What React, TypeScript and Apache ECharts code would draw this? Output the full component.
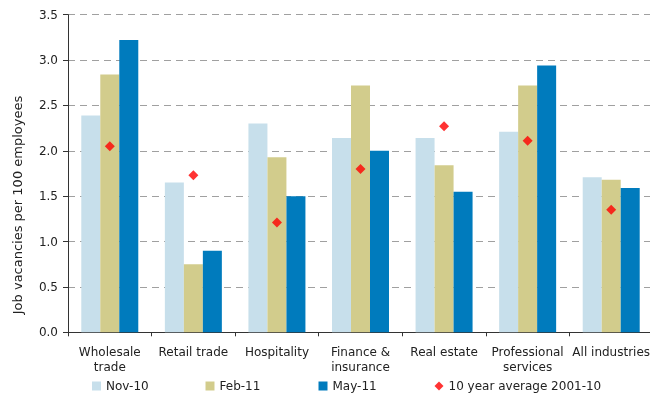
import React, { useEffect, useRef } from "react";
import * as echarts from "echarts";

const categories = [
  "Wholesale\ntrade",
  "Retail trade",
  "Hospitality",
  "Finance &\ninsurance",
  "Real estate",
  "Professional\nservices",
  "All industries",
];
const nov10 = [2.39, 1.65, 2.3, 2.14, 2.14, 2.21, 1.71];
const feb11 = [2.84, 0.75, 1.93, 2.72, 1.84, 2.72, 1.68];
const may11 = [3.22, 0.9, 1.5, 2.0, 1.55, 2.94, 1.59];
const avg10yr = [2.05, 1.73, 1.21, 1.8, 2.27, 2.11, 1.35];
const seriesNames = ["Nov-10", "Feb-11", "May-11", "10 year average 2001-10"];
const yAxisTitle = "Job vacancies per 100 employees";

const FONT = "DejaVu Sans, Verdana, sans-serif";

export default function App() {
  const ref = useRef<HTMLDivElement>(null);
  useEffect(() => {
    if (!ref.current) return;
    const chart = echarts.init(ref.current, undefined, { renderer: "svg" });
    const legendBase = {
      top: 380,
      padding: 0,
      itemWidth: 9,
      itemHeight: 9,
      itemGap: 0,
      itemTextGap: 3,
      textStyle: { fontFamily: FONT, fontSize: 12, color: "#222" },
    };
    chart.setOption({
      animation: false,
      textStyle: { fontFamily: FONT },
      grid: {
        left: 68,
        top: 14.7,
        bottom: 61.7,
        width: 585,
        containLabel: false,
        outerBoundsMode: "none",
      },
      graphic: [
        {
          type: "text",
          x: 17.5,
          y: 205,
          rotation: Math.PI / 2,
          style: {
            text: yAxisTitle,
            fontFamily: FONT,
            fontSize: 13,
            fill: "#222",
            align: "center",
            verticalAlign: "middle",
          },
        },
      ],
      legend: [
        { ...legendBase, left: 92, data: [{ name: seriesNames[0], icon: "rect" }] },
        { ...legendBase, left: 205.5, data: [{ name: seriesNames[1], icon: "rect" }] },
        { ...legendBase, left: 318.5, data: [{ name: seriesNames[2], icon: "rect" }] },
        { ...legendBase, left: 434.5, data: [{ name: seriesNames[3], icon: "diamond" }] },
      ],
      xAxis: {
        type: "category",
        data: categories,
        axisLine: { lineStyle: { color: "#333", width: 1 } },
        axisTick: { show: true, length: 4, lineStyle: { color: "#333" } },
        axisLabel: {
          interval: 0,
          margin: 12,
          fontSize: 12,
          lineHeight: 15,
          color: "#222",
          fontFamily: FONT,
        },
      },
      yAxis: {
        type: "value",
        min: 0,
        max: 3.5,
        interval: 0.5,
        axisLine: { show: true, lineStyle: { color: "#333", width: 1 } },
        axisTick: { show: true, length: 5, lineStyle: { color: "#333" } },
        axisLabel: {
          margin: 10,
          fontSize: 12,
          color: "#222",
          fontFamily: FONT,
          formatter: (v: number) => v.toFixed(1),
        },
        splitLine: {
          show: true,
          lineStyle: { color: "#a0a0a0", type: [7, 5], width: 1.2 },
        },
      },
      series: [
        {
          name: seriesNames[0],
          type: "bar",
          data: nov10,
          barWidth: 19,
          barGap: "0%",
          itemStyle: { color: "#c7dfeb" },
        },
        {
          name: seriesNames[1],
          type: "bar",
          data: feb11,
          barWidth: 19,
          barGap: "0%",
          itemStyle: { color: "#d2cc8c" },
        },
        {
          name: seriesNames[2],
          type: "bar",
          data: may11,
          barWidth: 19,
          barGap: "0%",
          itemStyle: { color: "#007bbd" },
        },
        {
          name: seriesNames[3],
          type: "scatter",
          data: avg10yr,
          symbol: "diamond",
          symbolSize: 10,
          itemStyle: { color: "#ff0000" },
          z: 5,
        },
      ],
    });
    return () => chart.dispose();
  }, []);
  return (
    <div
      ref={ref}
      style={{ position: "fixed", left: 0, top: 0, width: 650, height: 394 }}
    />
  );
}
